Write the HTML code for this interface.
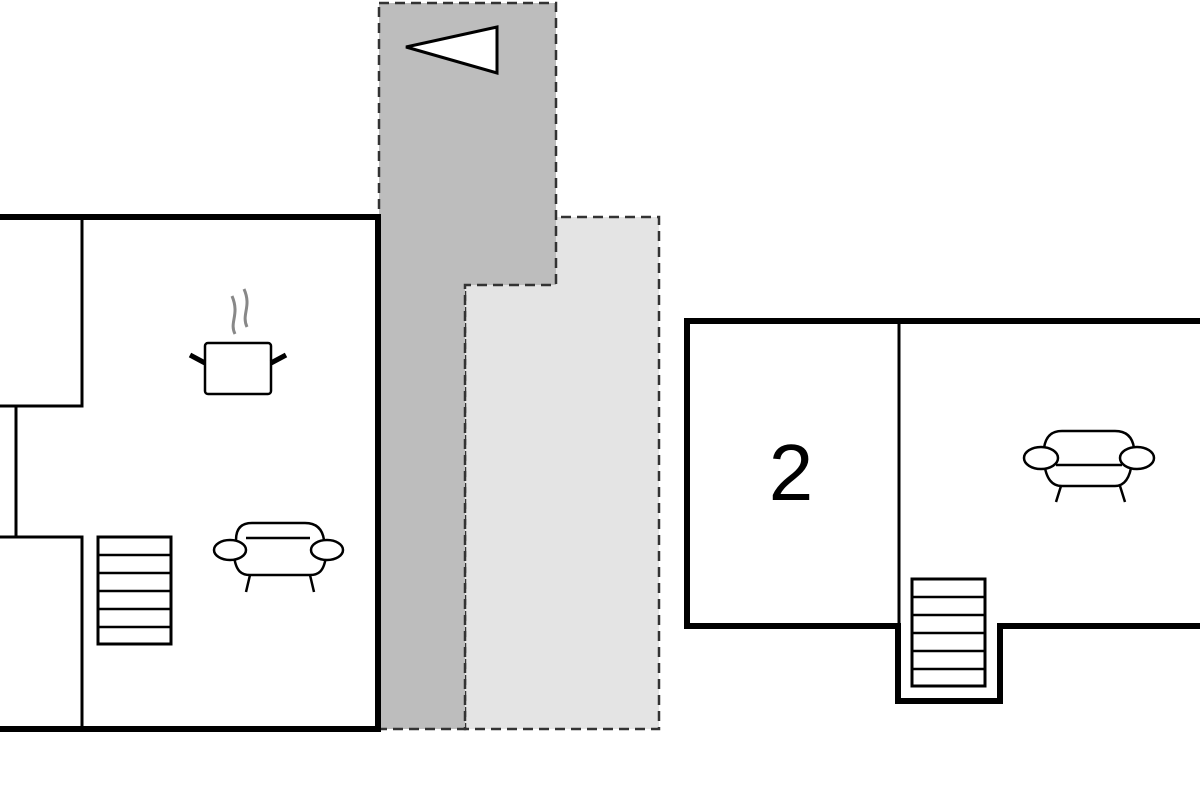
<!DOCTYPE html>
<html><head><style>html,body{margin:0;padding:0;background:#fff;width:1200px;height:800px;overflow:hidden}</style></head>
<body>
<svg width="1200" height="800" viewBox="0 0 1200 800" xmlns="http://www.w3.org/2000/svg">
<rect width="1200" height="800" fill="#fff"/>
<rect x="465" y="217" width="194" height="512" fill="#e4e4e4" stroke="#333" stroke-width="2.5" stroke-dasharray="10,6"/>
<polygon points="379,3 556,3 556,285 465,285 465,729 379,729" fill="#bdbdbd" stroke="#333" stroke-width="2.5" stroke-dasharray="10,6"/>
<polygon points="406,47 497,27 497,73" fill="#fff" stroke="#000" stroke-width="3"/>
<g fill="none" stroke="#000">
<path d="M0 217 H378 V729 H0" stroke-width="6"/>
<path d="M82 217 V406 H0 M16 406 V537 M0 537 H82 V729" stroke-width="3"/>
<rect x="98" y="537" width="73" height="107" stroke-width="3"/>
<path d="M98 555 H171 M98 573 H171 M98 591 H171 M98 609 H171 M98 627 H171" stroke-width="2.5"/>
<rect x="205" y="343" width="66" height="51" rx="3" stroke-width="2.5"/>
<path d="M205 363 L190 355 M271 363 L286 355" stroke-width="5"/>
<path d="M235 334 C229 322,240 315,232 296 M247 327 C241 314,252 307,244 289" stroke="#888" stroke-width="3"/>
<g stroke-width="2.5">
<path d="M236 540 C236 526,244 523,252 523 H305 C313 523,322 526,324 540"/>
<path d="M234 556 C236 572,242 575,250 575 H310 C318 575,324 572,326 556"/>
<path d="M246 538 H310"/>
<ellipse cx="230" cy="550" rx="16" ry="10" fill="#fff"/>
<ellipse cx="327" cy="550" rx="16" ry="10" fill="#fff"/>
<path d="M250 575 L246 592 M310 575 L314 592"/>
</g>
</g>
<g fill="none" stroke="#000">
<path d="M1205 321 H687 V626 H898 V701 H1000 V626 H1205" stroke-width="6"/>
<path d="M899 321 V626" stroke-width="3"/>
<rect x="912" y="579" width="73" height="107" stroke-width="3"/>
<path d="M912 597 H985 M912 615 H985 M912 633 H985 M912 651 H985 M912 669 H985" stroke-width="2.5"/>
<g stroke-width="2.5">
<path d="M1044 448 C1046 434,1054 431,1062 431 H1115 C1123 431,1132 434,1134 448"/>
<path d="M1044 462 C1046 479,1052 486,1062 486 H1115 C1124 486,1130 479,1132 462"/>
<path d="M1056 465 H1122"/>
<ellipse cx="1041" cy="458" rx="17" ry="11" fill="#fff"/>
<ellipse cx="1137" cy="458" rx="17" ry="11" fill="#fff"/>
<path d="M1061 486 L1056 502 M1120 486 L1125 502"/>
</g>
</g>
<text x="791" y="500" font-family="Liberation Sans, sans-serif" font-size="80" text-anchor="middle" fill="#000">2</text>
</svg>
</body></html>
